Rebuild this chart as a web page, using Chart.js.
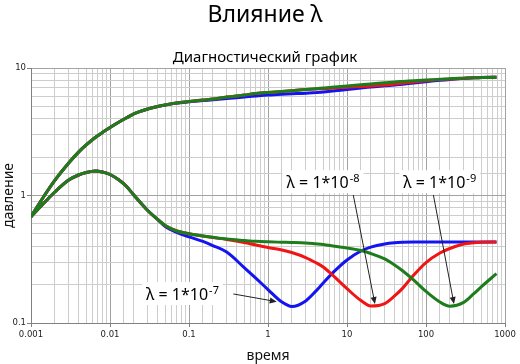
<!DOCTYPE html>
<html><head><meta charset="utf-8">
<script src="https://cdn.jsdelivr.net/npm/chart.js@4.4.1/dist/chart.umd.min.js"></script>
<style>html,body{margin:0;padding:0;background:#fff}</style>
</head><body>
<canvas id="cv" width="520" height="364"></canvas>
<script>
// ═══ DATA ═══
var mainTitle='Влияние λ';
var subTitle='Диагностический график';
var xTitle='время', yTitle='давление';

var times=[0.001,0.0015,0.002,0.003,0.004,0.005,0.0065,0.008,0.01,0.013,0.016,0.02,0.025,0.03,0.04,0.05,0.07,0.1,0.15,0.2,0.3,0.5,0.7,1,1.5,2,3,4,5,7,10,15,20,30,40,50,70,100,150,200,300,400,500,780];

// λ = 1e-9 (green)
var pGreen=[0.682,1.014,1.316,1.80,2.19,2.49,2.85,3.12,3.41,3.77,4.05,4.36,4.60,4.77,4.99,5.13,5.31,5.46,5.61,5.71,5.92,6.14,6.31,6.43,6.54,6.64,6.78,6.88,6.97,7.10,7.22,7.38,7.49,7.65,7.77,7.84,7.94,8.05,8.15,8.24,8.32,8.38,8.41,8.47];
var dGreen=[0.682,0.889,1.065,1.323,1.448,1.515,1.556,1.528,1.461,1.323,1.187,1.01,0.86,0.763,0.649,0.582,0.527,0.501,0.481,0.470,0.456,0.444,0.437,0.433,0.430,0.428,0.424,0.418,0.413,0.400,0.388,0.370,0.351,0.318,0.285,0.258,0.217,0.177,0.146,0.1355,0.145,0.169,0.192,0.244];
// λ = 1e-8 (red)
var pRed=[0.682,1.014,1.316,1.80,2.19,2.49,2.85,3.12,3.41,3.77,4.05,4.36,4.60,4.77,4.99,5.13,5.31,5.46,5.61,5.71,5.92,6.14,6.31,6.43,6.54,6.64,6.78,6.85,6.89,6.97,7.06,7.16,7.22,7.36,7.49,7.60,7.77,7.94,8.11,8.19,8.30,8.37,8.41,8.47];
var dRed=[0.682,0.889,1.065,1.323,1.448,1.515,1.556,1.528,1.461,1.323,1.187,1.01,0.86,0.763,0.649,0.582,0.527,0.501,0.481,0.468,0.452,0.428,0.409,0.391,0.374,0.357,0.326,0.298,0.275,0.229,0.186,0.150,0.136,0.142,0.163,0.186,0.238,0.298,0.354,0.384,0.417,0.426,0.4295,0.432];
// λ = 1e-7 (blue)
var pBlue=[0.682,1.014,1.316,1.80,2.19,2.49,2.85,3.12,3.41,3.77,4.05,4.36,4.60,4.77,4.99,5.13,5.31,5.43,5.56,5.63,5.76,5.92,6.03,6.14,6.23,6.28,6.33,6.41,6.48,6.63,6.78,6.97,7.10,7.25,7.36,7.45,7.63,7.80,8.01,8.14,8.28,8.37,8.41,8.47];
var dBlue=[0.682,0.889,1.065,1.323,1.448,1.515,1.556,1.528,1.461,1.323,1.187,1.01,0.86,0.763,0.649,0.572,0.513,0.473,0.436,0.405,0.360,0.272,0.225,0.183,0.146,0.1347,0.149,0.177,0.206,0.256,0.312,0.367,0.394,0.417,0.426,0.4295,0.432,0.432,0.432,0.432,0.432,0.432,0.432,0.432];

// annotations (data coords)
var noteText=['λ = 1*10','λ = 1*10','λ = 1*10'];
var noteExp=['-7','-8','-9'];
var noteX=[0.0286,1.72,51.6], noteY=[0.1515,1.14,1.14];
var arrFromX=[0.364,12.0,124], arrFromY=[0.169,1.01,1.01];
var arrToX=[1.29,22.6,226], arrToY=[0.147,0.141,0.141];

var GREEN='#1d7d1d', RED='#f01414', BLUE='#1414f0';

// ═══ HELPERS ═══
function isPow(v){if(!(v>0))return false;var l=Math.log10(v);return Math.abs(l-Math.round(l))<1e-6;}
function fmtTick(v){if(!isPow(v))return '';var e=Math.round(Math.log10(v));return e<0?Number(v).toFixed(-e):String(Math.pow(10,e));}
function pts(arr){return times.map(function(t,i){return{x:t,y:arr[i]};});}
function ds(arr,col){return{data:pts(arr),borderColor:col,backgroundColor:col,borderWidth:3,pointRadius:0,fill:false,cubicInterpolationMode:'monotone'};}

var gridOpts={color:function(c){return c.tick&&isPow(c.tick.value)?'#a2a2a2':'#cdcdcd';},
  tickColor:function(c){return c.tick&&isPow(c.tick.value)?'#808080':'rgba(0,0,0,0)';},tickLength:4,lineWidth:1};
var tickFont={family:'DejaVu Sans',size:8.5};

var titlesPlugin={id:'titles',afterDraw:function(ch){
  var ctx=ch.ctx,a=ch.chartArea,cx=(a.left+a.right)/2-3;
  ctx.save();ctx.fillStyle='#000';ctx.textAlign='center';ctx.textBaseline='alphabetic';
  ctx.font='23px "Noto Sans"';ctx.fillText(mainTitle,cx,22);
  ctx.font='15px "Noto Sans"';ctx.fillText(subTitle,cx,62);
  ctx.restore();
}};

var notesPlugin={id:'notes',afterDatasetsDraw:function(ch){
  var ctx=ch.ctx,xs=ch.scales.x,ys=ch.scales.y;
  ctx.save();
  noteText.forEach(function(t,i){
    // arrow
    var x1=xs.getPixelForValue(arrFromX[i]),y1=ys.getPixelForValue(arrFromY[i]);
    var x2=xs.getPixelForValue(arrToX[i]),y2=ys.getPixelForValue(arrToY[i]);
    var ang=Math.atan2(y2-y1,x2-x1);
    ctx.strokeStyle='#222';ctx.fillStyle='#222';ctx.lineWidth=1;
    ctx.beginPath();ctx.moveTo(x1,y1);ctx.lineTo(x2-6*Math.cos(ang),y2-6*Math.sin(ang));ctx.stroke();
    ctx.beginPath();ctx.moveTo(x2,y2);
    ctx.lineTo(x2-7*Math.cos(ang)+3*Math.sin(ang),y2-7*Math.sin(ang)-3*Math.cos(ang));
    ctx.lineTo(x2-7*Math.cos(ang)-3*Math.sin(ang),y2-7*Math.sin(ang)+3*Math.cos(ang));
    ctx.closePath();ctx.fill();
    // label
    var lx=xs.getPixelForValue(noteX[i]),ly=ys.getPixelForValue(noteY[i]);
    ctx.font='16px "Noto Sans"';var w1=ctx.measureText(t).width;
    ctx.font='11px "Noto Sans"';var w2=ctx.measureText(noteExp[i]).width;
    ctx.fillStyle='#fff';ctx.fillRect(lx-4,ly-18,w1+w2+9,23);
    ctx.fillStyle='#000';ctx.textAlign='left';ctx.textBaseline='alphabetic';
    ctx.font='16px "Noto Sans"';ctx.fillText(t,lx,ly);
    ctx.font='11px "Noto Sans"';ctx.fillText(noteExp[i],lx+w1+1,ly-6);
  });
  ctx.restore();
}};

// ═══ CHART ═══
new Chart(document.getElementById('cv'),{
  type:'line',
  data:{datasets:[ds(pGreen,GREEN),ds(dGreen,GREEN),ds(pRed,RED),ds(dRed,RED),ds(pBlue,BLUE),ds(dBlue,BLUE)]},
  options:{responsive:false,animation:false,devicePixelRatio:1,
    layout:{padding:{top:68,right:15,left:0,bottom:0}},
    plugins:{legend:{display:false},tooltip:{enabled:false},title:{display:false}},
    scales:{
      x:{type:'logarithmic',position:'bottom',min:0.001,max:1000,grid:gridOpts,border:{color:'#808080'},
        ticks:{autoSkip:false,maxRotation:0,minRotation:0,padding:3,font:tickFont,color:'#222',callback:fmtTick},
        title:{display:true,text:xTitle,font:{family:'Noto Sans',size:14},color:'#111',padding:0},
        afterFit:function(s){s.height=41;s.paddingLeft=0;s.paddingRight=0;}},
      y:{type:'logarithmic',position:'left',min:0.1,max:10,grid:gridOpts,border:{color:'#808080'},
        ticks:{autoSkip:false,padding:1,font:tickFont,color:'#222',callback:fmtTick},
        title:{display:true,text:yTitle,font:{family:'Noto Sans',size:14},color:'#111',padding:1},
        afterFit:function(s){s.width=31;s.paddingTop=0;s.paddingBottom=0;}}
    }
  },
  plugins:[titlesPlugin,notesPlugin]
});
</script>
</body></html>
